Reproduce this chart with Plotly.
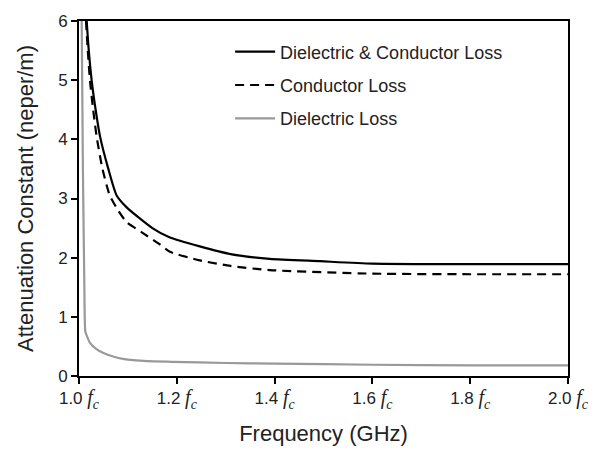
import plotly.graph_objects as go

# Frequency (in units of fc) and attenuation (neper/m)
f_total = [1.0157, 1.02, 1.026, 1.034, 1.043, 1.06, 1.077, 1.0975, 1.15, 1.186, 1.247, 1.31, 1.39, 1.493, 1.6, 1.8, 2.0]
a_total = [6.0, 5.5, 4.99, 4.5, 4.05, 3.5, 3.05, 2.85, 2.5, 2.34, 2.19, 2.06, 1.98, 1.94, 1.90, 1.89, 1.89]

f_cond = [1.0143, 1.018, 1.0225, 1.029, 1.036, 1.048, 1.063, 1.08, 1.0975, 1.13, 1.166, 1.186, 1.247, 1.31, 1.39, 1.6, 1.8, 2.0]
a_cond = [6.0, 5.5, 4.99, 4.5, 4.05, 3.5, 3.05, 2.8, 2.6, 2.42, 2.22, 2.10, 1.955, 1.86, 1.79, 1.73, 1.72, 1.72]

f_diel = [1.0055, 1.008, 1.011, 1.013, 1.0225, 1.035, 1.05, 1.07, 1.09, 1.14, 1.19, 1.3, 1.4, 1.6, 1.8, 2.0]
a_diel = [6.0, 3.5, 1.5, 0.75, 0.56, 0.46, 0.39, 0.33, 0.29, 0.25, 0.24, 0.22, 0.21, 0.19, 0.18, 0.18]

x_ticks = [1.0, 1.2, 1.4, 1.6, 1.8, 2.0]
x_ticklabels = ["1.0", "1.2", "1.4", "1.6", "1.8", "2.0"]
y_ticks = [0, 1, 2, 3, 4, 5, 6]

fc = ("<span style='font-family:\"Liberation Serif\", \"Times New Roman\", serif;font-size:20px'>"
      "<i>f</i><sub><i>c</i></sub></span>")
tick_text = [f"{t} {fc}" for t in x_ticklabels]

fig = go.Figure()
fig.add_trace(go.Scatter(x=f_total, y=a_total, mode="lines", name="Dielectric & Conductor Loss",
                         line=dict(color="#000000", width=2.2, shape="spline", smoothing=0.6), legendgroup="a"))
fig.add_trace(go.Scatter(x=f_cond, y=a_cond, mode="lines", name="Conductor Loss",
                         line=dict(color="#000000", width=2.2, dash="9px,6px", shape="spline", smoothing=0.6), legendgroup="b"))
fig.add_trace(go.Scatter(x=f_diel, y=a_diel, mode="lines", name="Dielectric Loss",
                         line=dict(color="#999999", width=2.2, shape="spline", smoothing=0.4), legendgroup="c"))

font_family = "Liberation Sans, Arial, sans-serif"
fig.update_layout(
    width=605, height=454,
    margin=dict(l=79, r=37, t=16, b=77),
    paper_bgcolor="white", plot_bgcolor="white",
    font=dict(family=font_family, size=18, color="#222222"),
    showlegend=True,
    legend=dict(x=0.309, y=0.965, xanchor="left", yanchor="top", bgcolor="rgba(0,0,0,0)",
                tracegroupgap=7, itemwidth=40),
    xaxis=dict(range=[1.0, 2.0], tickvals=x_ticks, ticktext=tick_text,
               showgrid=False, zeroline=False, showline=True, linecolor="#000000", linewidth=2,
               mirror=True, ticks="outside", ticklen=6, tickwidth=2, tickcolor="#000000",
               title=dict(text="Frequency (GHz)", standoff=15),
               tickfont=dict(size=17)),
    yaxis=dict(range=[0, 6], tickvals=y_ticks, showgrid=False, zeroline=False,
               showline=True, linecolor="#000000", linewidth=2, mirror=True,
               ticks="outside", ticklen=6, tickwidth=2, tickcolor="#000000",
               title=dict(text="Attenuation Constant (neper/m)", standoff=18),
               tickfont=dict(size=17)),
)

fig.write_html("out.html")
